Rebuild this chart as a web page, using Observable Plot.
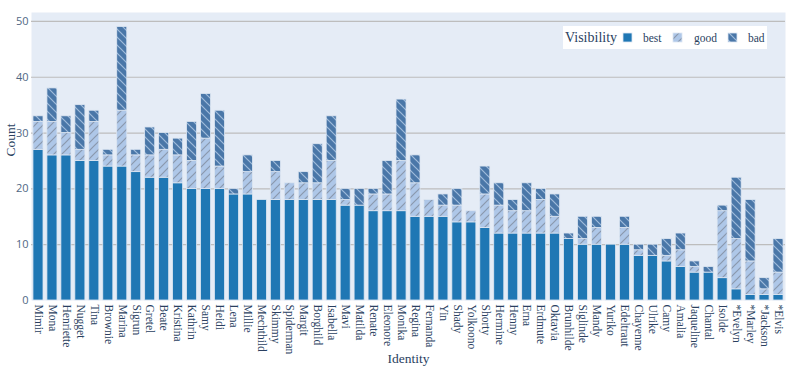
<!DOCTYPE html>
<html>
<head>
<meta charset="utf-8">
<script src="https://cdn.jsdelivr.net/npm/d3@7"></script>
<script src="https://cdn.jsdelivr.net/npm/@observablehq/plot@0.6"></script>
<style>
  html, body { margin: 0; padding: 0; background: #fff; }
  #chart { width: 794px; height: 373px; }
</style>
</head>
<body>
<div id="chart"></div>
<script>
const names = ["Mimir","Mona","Henriette","Nugget","Tina","Brownie","Marina","Sigrun","Gretel","Beate","Kristina","Kathrin","Samy","Heidi","Lena","Millie","Mechthild","Skimmy","Spiderman","Margit","Borghild","Isabella","Mavi","Matilda","Renate","Eleonore","Monika","Regina","Fernanda","Yin","Shady","Yolkoono","Shorty","Hermine","Henny","Erna","Erdmute","Oktavia","Brunhilde","Siglinde","Mandy","Yuriko","Edeltraut","Chayenne","Ulrike","Camy","Amalia","Jaqueline","Chantal","Isolde","*Evelyn","*Marley","*Jackson","*Elvis"];
const best = [27,26,26,25,25,24,24,23,22,22,21,20,20,20,19,19,18,18,18,18,18,18,17,17,16,16,16,15,15,15,14,14,13,12,12,12,12,12,11,10,10,10,10,8,8,7,6,5,5,4,2,1,1,1];
const good = [5,6,4,2,7,2,10,3,4,5,5,5,9,4,0,4,0,5,3,3,3,7,1,0,3,3,9,6,3,2,3,2,6,5,4,4,6,3,0,1,3,0,3,1,0,1,3,1,0,12,9,6,1,4];
const bad  = [1,6,3,8,2,1,15,1,5,3,3,7,8,10,1,3,0,2,0,2,7,8,2,3,1,6,11,5,0,2,3,0,5,4,2,5,2,4,1,4,2,0,2,1,2,3,3,1,1,1,11,11,2,6];
const visibility = ["best","good","bad"];
const yTicks = [0,10,20,30,40,50];

const series = {best, good, bad};
const data = names.flatMap((n, i) => visibility.map(v => ({name: n, vis: v, count: series[v][i]}))).filter(d => d.count > 0);

const chart = Plot.plot({
  width: 794,
  height: 373,
  marginLeft: 31,
  marginRight: 9,
  marginTop: 12,
  marginBottom: 73,
  style: {fontFamily: "'Liberation Serif', serif", background: "#fff", overflow: "visible"},
  x: {domain: names, paddingInner: 0.28, paddingOuter: 0.14, label: null},
  y: {domain: [0, 51.6], label: null},
  color: {domain: visibility, range: ["#1f77b4", "url(#pGood)", "url(#pBad)"]},
  marks: [
    Plot.frame({fill: "#E5ECF6", stroke: null}),
    Plot.gridY(yTicks.slice(1), {stroke: "#bdbdbd", strokeOpacity: 1, strokeWidth: 1.2}),
    Plot.axisY(yTicks, {tickSize: 0, tickPadding: 3, fontFamily: "'Open Sans', sans-serif", fontSize: 11, fill: "#506784", label: null}),
    Plot.axisX({tickSize: 0, tickPadding: 4, tickRotate: 90, fontSize: 11.5, fill: "#2a3f5f", label: null}),
    Plot.barY(data, {x: "name", y: "count", fill: "vis", stroke: "#dde6f2", strokeWidth: 0.8}),
    Plot.text(["Count"], {frameAnchor: "left", dx: -21, rotate: -90, fontSize: 13.5, fill: "#2a3f5f"}),
    Plot.text(["Identity"], {frameAnchor: "bottom", dy: 62, fontSize: 13.5, fill: "#2a3f5f"})
  ]
});

const svg = d3.select(chart);
svg.insert("defs", ":first-child").html(`
  <pattern id="pGood" patternUnits="userSpaceOnUse" width="8" height="8">
    <rect width="8" height="8" fill="#aec7e8"/>
    <path d="M-2,2 L2,-2 M0,8 L8,0 M6,10 L10,6" stroke="#8a98ad" stroke-width="1.2"/>
  </pattern>
  <pattern id="pBad" patternUnits="userSpaceOnUse" width="8" height="8">
    <rect width="8" height="8" fill="#4a77a8"/>
    <path d="M-2,6 L2,10 M0,0 L8,8 M6,-2 L10,2" stroke="#9fbbdb" stroke-width="1.2"/>
  </pattern>
`);

// legend
const lg = svg.append("g").attr("font-family", "'Liberation Serif', serif").attr("text-anchor", "start");
lg.append("rect").attr("x", 563).attr("y", 26).attr("width", 204).attr("height", 23).attr("fill", "#fff");
lg.append("text").attr("x", 565).attr("y", 42).attr("font-size", 14).attr("fill", "#2a3f5f").text("Visibility");
const items = [
  {k: "best", sx: 623, tx: 643, fill: "#1f77b4"},
  {k: "good", sx: 673, tx: 694, fill: "url(#pGood)"},
  {k: "bad", sx: 728, tx: 748, fill: "url(#pBad)"}
];
for (const it of items) {
  lg.append("rect").attr("x", it.sx).attr("y", 33).attr("width", 9).attr("height", 9).attr("fill", it.fill).attr("stroke", "#dde6f2").attr("stroke-width", 0.8);
  lg.append("text").attr("x", it.tx).attr("y", 41.5).attr("font-size", 11.5).attr("fill", "#2a3f5f").text(it.k);
}

document.getElementById("chart").appendChild(chart);
</script>
</body>
</html>
